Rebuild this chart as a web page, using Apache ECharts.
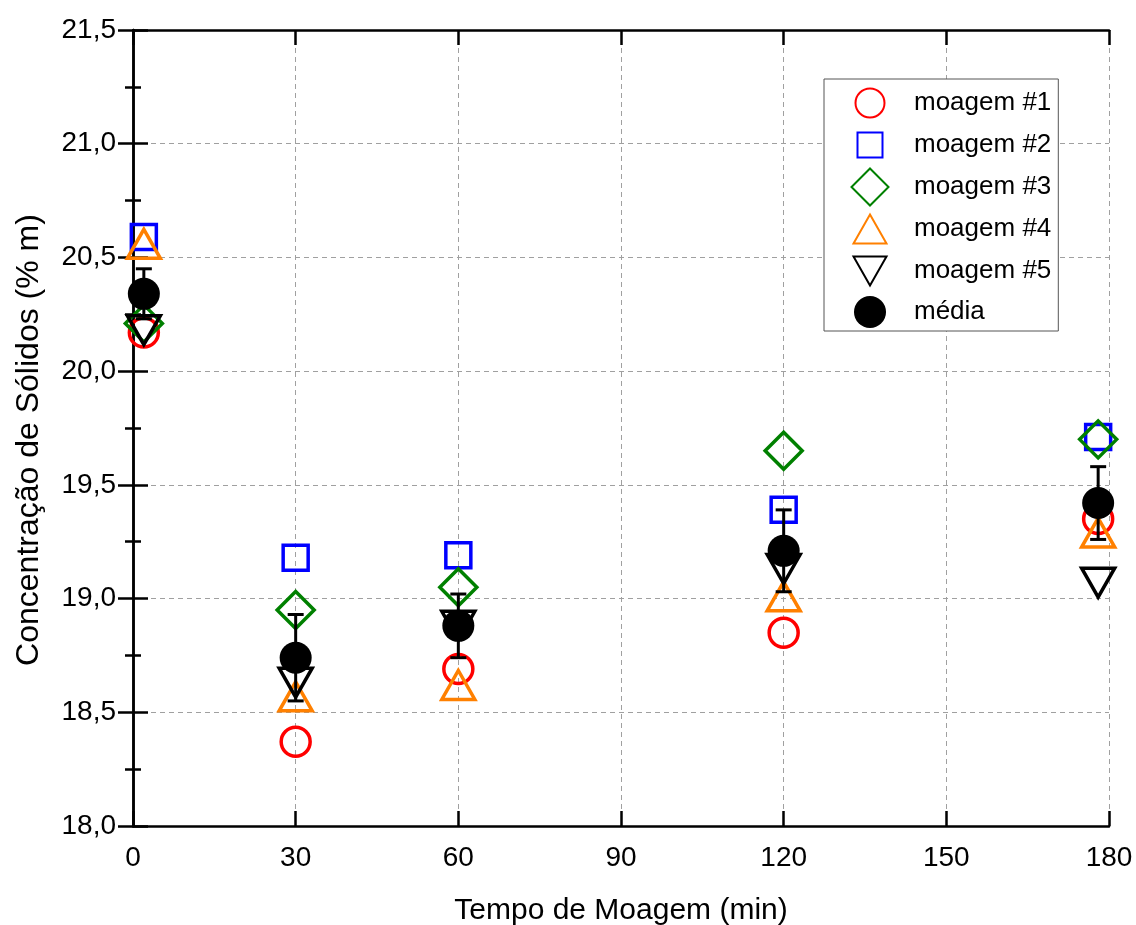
<!DOCTYPE html>
<html>
<head>
<meta charset="utf-8">
<script src="https://cdn.jsdelivr.net/npm/echarts@6/dist/echarts.min.js"></script>
<style>
  html, body { margin: 0; padding: 0; background: #fff; }
  #chart { width: 1136px; height: 925px; }
</style>
</head>
<body>
<div id="chart"></div>
<script>
// Milling time (min) for each sampling point
const tempo = [2, 30, 60, 120, 178];

// Solids concentration (% m) for each milling run
const moagem1 = [20.17, 18.37, 18.69, 18.85, 19.35];
const moagem2 = [20.59, 19.18, 19.19, 19.39, 19.71];
const moagem3 = [20.21, 18.95, 19.05, 19.65, 19.70];
const moagem4 = [20.56, 18.57, 18.62, 19.01, 19.29];
const moagem5 = [20.18, 18.63, 18.88, 19.13, 19.07];

// Mean of the runs and its standard deviation
const media = [20.34, 18.74, 18.88, 19.21, 19.42];
const desvio = [0.11, 0.19, 0.14, 0.18, 0.16];

// Axis ticks
const xTicks = [0, 30, 60, 90, 120, 150, 180];
const yTicks = [18.0, 18.5, 19.0, 19.5, 20.0, 20.5, 21.0, 21.5];

const FONT = '"Liberation Sans", Arial, sans-serif';

// Symbols share a common 38x38 frame so plot and legend sizes agree
const FRAME = 'M-19,-19M19,19';
const SYM = {
  circle: 'path://' + FRAME + 'M14.5,0A14.5,14.5 0 1 1 -14.5,0A14.5,14.5 0 1 1 14.5,0Z',
  square: 'path://' + FRAME + 'M-12.5,-12.5L12.5,-12.5L12.5,12.5L-12.5,12.5Z',
  diamond: 'path://' + FRAME + 'M0,-18.5L18.5,0L0,18.5L-18.5,0Z',
  up: 'path://' + FRAME + 'M0,-14.5L16.5,14.5L-16.5,14.5Z',
  down: 'path://' + FRAME + 'M-16.5,-14.5L16.5,-14.5L0,14.5Z',
  dot: 'path://' + FRAME + 'M16,0A16,16 0 1 1 -16,0A16,16 0 1 1 16,0Z'
};

const pairs = (ys) => tempo.map((t, i) => [t, ys[i]]);

function openSeries(name, ys, symbol, color) {
  return {
    name: name,
    type: 'scatter',
    data: pairs(ys),
    symbol: symbol,
    symbolSize: 38,
    itemStyle: { color: 'rgba(0,0,0,0)', borderColor: color, borderWidth: 3.5, opacity: 1 },
    emphasis: { disabled: true },
    z: 3
  };
}

const yFmt = (v) => v.toFixed(1).replace('.', ',');

const chart = echarts.init(document.getElementById('chart'), null, { renderer: 'canvas' });

const frameLine = { show: true, lineStyle: { color: '#000', width: 2.5 } };
const majorTick = { show: true, inside: true, length: 15, lineStyle: { color: '#000', width: 2.5 } };
const minorTick = { show: true, splitNumber: 2, length: 8, lineStyle: { color: '#000', width: 2.5 } };
const gridLine = { show: true, lineStyle: { color: '#a0a0a0', type: [5, 4], width: 1 } };

chart.setOption({
  animation: false,
  backgroundColor: '#fff',
  textStyle: { fontFamily: FONT },
  grid: { left: 133, top: 30, right: 27, bottom: 99, containLabel: false, outerBoundsMode: 'none' },
  legend: {
    orient: 'vertical',
    left: 824,
    top: 79,
    itemWidth: 38,
    itemHeight: 38,
    itemGap: 2,
    padding: [4, 7, 0, 26],
    borderColor: '#555',
    borderWidth: 1,
    backgroundColor: '#fff',
    textStyle: { fontFamily: FONT, fontSize: 26, color: '#000', padding: [0, 0, 0, 20] },
    data: ['moagem #1', 'moagem #2', 'moagem #3', 'moagem #4', 'moagem #5', 'média'],
    selectedMode: false
  },
  xAxis: [
    {
      type: 'value', min: 0, max: 180, interval: 30, position: 'bottom',
      name: 'Tempo de Moagem (min)', nameLocation: 'middle', nameGap: 70,
      nameTextStyle: { fontFamily: FONT, fontSize: 30, color: '#000' },
      axisLine: frameLine,
      axisTick: majorTick,
      axisLabel: { fontFamily: FONT, fontSize: 28, color: '#000', margin: 18,
        customValues: xTicks },
      splitLine: gridLine
    },
    {
      type: 'value', min: 0, max: 180, interval: 30, position: 'top',
      axisLine: frameLine,
      axisTick: majorTick,
      axisLabel: { show: false },
      splitLine: { show: false }
    }
  ],
  yAxis: [
    {
      type: 'value', min: 18, max: 21.5, interval: 0.5, position: 'left',
      name: 'Concentração de Sólidos (% m)', nameLocation: 'middle', nameGap: 88,
      nameTextStyle: { fontFamily: FONT, fontSize: 32, color: '#000', padding: [0, 24, 0, 0] },
      axisLine: frameLine,
      axisTick: majorTick,
      minorTick: minorTick,
      axisLabel: { fontFamily: FONT, fontSize: 28, color: '#000', margin: 17, formatter: yFmt,
        customValues: yTicks },
      splitLine: gridLine
    },
    {
      type: 'value', min: 18, max: 21.5, interval: 0.5, position: 'right',
      axisLine: frameLine,
      axisTick: majorTick,
      minorTick: minorTick,
      axisLabel: { show: false },
      splitLine: { show: false }
    }
  ],
  series: [
    openSeries('moagem #1', moagem1, SYM.circle, '#ff0000'),
    openSeries('moagem #2', moagem2, SYM.square, '#0000ff'),
    openSeries('moagem #3', moagem3, SYM.diamond, '#008000'),
    openSeries('moagem #4', moagem4, SYM.up, '#ff8000'),
    openSeries('moagem #5', moagem5, SYM.down, '#000000'),
    {
      // error bars of the mean
      name: 'desvio',
      type: 'custom',
      data: tempo.map((t, i) => [t, media[i], desvio[i]]),
      renderItem: function (params, api) {
        const x = api.value(0), y = api.value(1), e = api.value(2);
        const top = api.coord([x, y + e]);
        const bot = api.coord([x, y - e]);
        const half = 8;
        const st = { stroke: '#000', lineWidth: 3 };
        return {
          type: 'group',
          children: [
            { type: 'line', shape: { x1: top[0], y1: top[1], x2: bot[0], y2: bot[1] }, style: st },
            { type: 'line', shape: { x1: top[0] - half, y1: top[1], x2: top[0] + half, y2: top[1] }, style: st },
            { type: 'line', shape: { x1: bot[0] - half, y1: bot[1], x2: bot[0] + half, y2: bot[1] }, style: st }
          ]
        };
      },
      z: 4,
      silent: true
    },
    {
      name: 'média',
      type: 'scatter',
      data: pairs(media),
      symbol: SYM.dot,
      symbolSize: 38,
      itemStyle: { color: '#000', borderWidth: 0, opacity: 1 },
      emphasis: { disabled: true },
      z: 5
    }
  ]
});
</script>
</body>
</html>
